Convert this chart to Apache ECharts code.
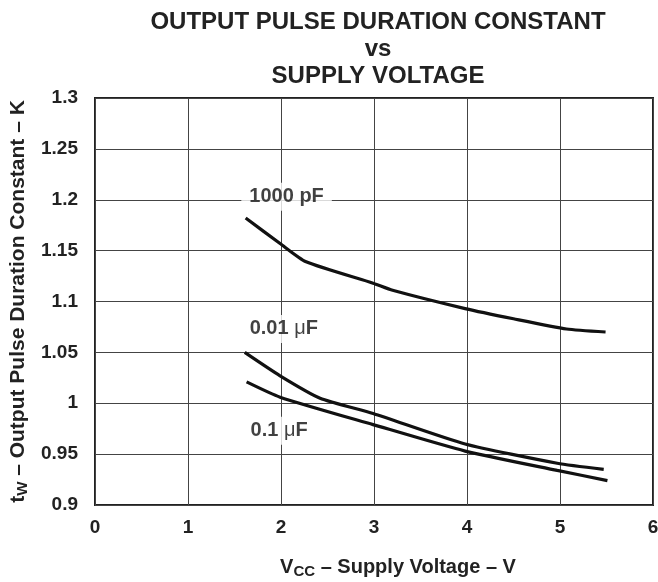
<!DOCTYPE html>
<html>
<head>
<meta charset="utf-8">
<title>Output pulse duration constant</title>
<script src="https://cdn.jsdelivr.net/npm/echarts@6/dist/echarts.min.js"></script>
<style>
  * { margin: 0; padding: 0; }
  body { background: #fff; }
  #main { width: 658px; height: 582px; }
</style>
</head>
<body>
<div id="main"></div>
<script>
// supply voltage (V) vs pulse duration constant K
var cap1000pF = [[1.62, 1.182], [1.99, 1.157], [2.27, 1.139], [2.99, 1.118], [3.2, 1.111], [3.98, 1.093], [4.5, 1.083], [5.07, 1.073], [5.49, 1.070]];
var cap001uF = [[1.61, 1.050], [1.99, 1.027], [2.42, 1.005], [2.99, 0.990], [3.98, 0.960], [4.97, 0.941], [5.47, 0.935]];
var cap01uF = [[1.63, 1.021], [1.99, 1.006], [2.99, 0.979], [3.98, 0.953], [4.97, 0.934], [5.51, 0.924]];
// curve labels: [x, y, text]
var curveLabels = [[2.06, 1.203, '1000 pF'], [2.03, 1.073, '0.01 {mu|μ}F'], [1.98, 0.973, '0.1 {mu|μ}F']];

var font = 'Liberation Sans, Arial, sans-serif';
var myChart = echarts.init(document.getElementById('main'));

function curve(data) {
    return {
        type: 'line',
        data: data,
        smooth: 0.2,
        showSymbol: false,
        lineStyle: { color: '#111', width: 3.2 },
        z: 3
    };
}

var subStyle = { fontFamily: font, fontSize: 15, fontWeight: 'bold', color: '#222', padding: [9, 0, 0, 0] };

var option = {
    backgroundColor: '#fff',
    animation: false,
    title: {
        text: 'OUTPUT PULSE DURATION CONSTANT\nvs\nSUPPLY VOLTAGE',
        left: 373,
        textAlign: 'center',
        top: 4,
        textStyle: { fontFamily: font, fontSize: 24, fontWeight: 'bold', color: '#222', lineHeight: 27 }
    },
    grid: {
        left: 95, right: 5, top: 98, bottom: 77,
        containLabel: false,
        outerBoundsMode: 'none',
        show: true, borderColor: '#222', borderWidth: 2, backgroundColor: 'transparent'
    },
    xAxis: {
        type: 'value',
        min: 0, max: 6, interval: 1,
        axisLine: { show: false },
        axisTick: { show: false },
        splitLine: { lineStyle: { color: '#444', width: 1 } },
        axisLabel: { fontFamily: font, fontSize: 19, fontWeight: 'bold', color: '#222', margin: 13 },
        name: 'V{sub|CC} – Supply Voltage – V',
        nameLocation: 'middle',
        nameGap: 50,
        nameTextStyle: {
            fontFamily: font, fontSize: 20, fontWeight: 'bold', color: '#222',
            padding: [0, 0, 0, 48],
            rich: { sub: subStyle }
        }
    },
    yAxis: {
        type: 'value',
        min: 0.9, max: 1.3, interval: 0.05,
        axisLine: { show: false },
        axisTick: { show: false },
        splitLine: { lineStyle: { color: '#444', width: 1 } },
        axisLabel: {
            fontFamily: font, fontSize: 19, fontWeight: 'bold', color: '#222', margin: 17,
            formatter: function (v) { return String(+v.toFixed(2)); }
        },
        name: 't{sub|W} – Output Pulse Duration Constant – K',
        nameLocation: 'middle',
        nameGap: 61,
        nameTextStyle: {
            fontFamily: font, fontSize: 21, fontWeight: 'bold', color: '#222',
            rich: { sub: subStyle }
        }
    },
    series: [
        curve(cap1000pF),
        curve(cap001uF),
        curve(cap01uF),
        {
            type: 'scatter',
            data: curveLabels,
            symbolSize: 0,
            z: 4,
            label: {
                show: true,
                position: 'inside',
                formatter: function (p) { return p.data[2]; },
                fontFamily: font, fontSize: 20, fontWeight: 'bold', color: '#111',
                backgroundColor: '#fff',
                padding: [4, 8],
                rich: { mu: { fontFamily: font, fontSize: 20, fontWeight: 'normal', color: '#111' } }
            }
        }
    ]
};

myChart.setOption(option);
</script>
</body>
</html>
